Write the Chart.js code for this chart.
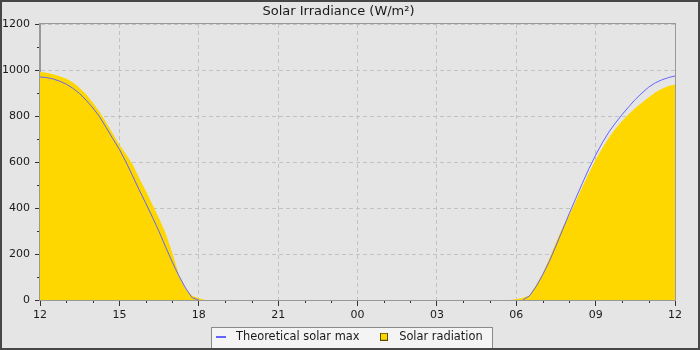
<!DOCTYPE html>
<html>
<head>
<meta charset="utf-8">
<title>Solar Irradiance</title>
<script src="https://cdn.jsdelivr.net/npm/chart.js@4/dist/chart.umd.min.js"></script>
<style>
  html, body { margin: 0; padding: 0; background: #e5e5e5; }
  #frame {
    width: 700px; height: 350px; box-sizing: border-box;
    border: 2px solid #474747; background: #e5e5e5;
  }
  #frame canvas { display: block; }
</style>
</head>
<body>
<div id="frame"><canvas id="irradiance" width="696" height="346"></canvas></div>
<script>
// Sample times, every 15 minutes from noon to noon of the next day
const times = [
  "12:00","12:15","12:30","12:45","13:00","13:15","13:30","13:45",
  "14:00","14:15","14:30","14:45","15:00","15:15","15:30","15:45",
  "16:00","16:15","16:30","16:45","17:00","17:15","17:30","17:45",
  "18:00","18:15","18:30","18:45","19:00","19:15","19:30","19:45",
  "20:00","20:15","20:30","20:45","21:00","21:15","21:30","21:45",
  "22:00","22:15","22:30","22:45","23:00","23:15","23:30","23:45",
  "00:00","00:15","00:30","00:45","01:00","01:15","01:30","01:45",
  "02:00","02:15","02:30","02:45","03:00","03:15","03:30","03:45",
  "04:00","04:15","04:30","04:45","05:00","05:15","05:30","05:45",
  "06:00","06:15","06:30","06:45","07:00","07:15","07:30","07:45",
  "08:00","08:15","08:30","08:45","09:00","09:15","09:30","09:45",
  "10:00","10:15","10:30","10:45","11:00","11:15","11:30","11:45",
  "12:00"
];

// Clear-sky maximum (W/m²); no value while the sun is down
const theoreticalMax = [
  970, 967, 961, 951, 938, 920, 897, 868,
  835, 797, 750, 702, 655, 600, 540, 478,
  420, 360, 298, 230, 165, 105, 52, 10,
  0, null, null, null, null, null, null, null,
  null, null, null, null, null, null, null, null,
  null, null, null, null, null, null, null, null,
  null, null, null, null, null, null, null, null,
  null, null, null, null, null, null, null, null,
  null, null, null, null, null, null, null, null,
  null, 0, 18, 58, 110, 168, 235, 305,
  375, 442, 508, 572, 630, 683, 730, 770,
  806, 840, 872, 900, 925, 944, 957, 967,
  974
];

// Measured solar radiation (W/m²)
const solarRadiation = [
  991, 988, 982, 973, 962, 946, 922, 893,
  858, 818, 772, 724, 675, 635, 590, 530,
  475, 415, 355, 290, 205, 110, 48, 18,
  8, 0, 0, 0, 0, 0, 0, 0,
  0, 0, 0, 0, 0, 0, 0, 0,
  0, 0, 0, 0, 0, 0, 0, 0,
  0, 0, 0, 0, 0, 0, 0, 0,
  0, 0, 0, 0, 0, 0, 0, 0,
  0, 0, 0, 0, 0, 0, 0, 0,
  3, 10, 20, 65, 115, 180, 250, 315,
  370, 428, 492, 552, 610, 660, 705, 745,
  778, 808, 835, 858, 880, 902, 918, 930,
  937
];

// Labels for the 3-hourly ticks along the time axis
const hourLabels = ["12", "15", "18", "21", "00", "03", "06", "09", "12"];

// Hours elapsed since the first noon, for each sample
const hoursSinceNoon = (() => {
  const out = [];
  let prev = -1;
  for (const t of times) {
    const [hh, mm] = t.split(":").map(Number);
    let h = ((hh - 12 + 24) % 24) + mm / 60;
    if (h < prev) h += 24;
    out.push(h);
    prev = h;
  }
  return out;
})();

const toPoints = (values) => values.map((v, i) => ({ x: hoursSinceNoon[i], y: v }));

const BLUE = "#6464ff";
const GOLD = "#ffd700";
const AXIS_GREY = "#999999";
const GRID_GREY = "#c2c2c2";
const TEXT = "#1a1a1a";
const TICK = "#333333";

Chart.defaults.font.family = "'DejaVu Sans', sans-serif";
Chart.defaults.font.size = 11;
Chart.defaults.color = TEXT;

// Small legend symbols: a short line and a bordered square
function lineSymbol(color) {
  const c = document.createElement("canvas");
  c.width = 10; c.height = 2;
  const g = c.getContext("2d");
  g.fillStyle = color;
  g.fillRect(0, 0, 10, 2);
  return c;
}
function squareSymbol(fill, stroke) {
  const c = document.createElement("canvas");
  c.width = 8; c.height = 8;
  const g = c.getContext("2d");
  g.fillStyle = fill;
  g.fillRect(0, 0, 8, 8);
  g.strokeStyle = stroke;
  g.lineWidth = 1;
  g.strokeRect(0.5, 0.5, 7, 7);
  return c;
}
const legendSymbols = [lineSymbol(BLUE), squareSymbol(GOLD, "#5c4d00")];

// Legend panel, plot frame and minor tick marks
const decorations = {
  id: "decorations",
  afterLayout(chart) {
    // legend row sits just under the time labels, spanning the full width
    const lg = chart.legend;
    if (!lg) return;
    lg.left = 0;
    lg.right = chart.width - 6;
    lg.width = lg.right - lg.left;
    lg.top = chart.height - 32;
    lg.bottom = chart.height;
    lg.height = lg.bottom - lg.top;
  },
  beforeDraw(chart) {
    const lg = chart.legend;
    if (!lg || !lg.legendHitBoxes || !lg.legendHitBoxes.length) return;
    const boxes = lg.legendHitBoxes;
    const minX = Math.min(...boxes.map(b => b.left));
    const maxX = Math.max(...boxes.map(b => b.left + b.width));
    const midY = boxes[0].top + boxes[0].height / 2;
    const ctx = chart.ctx;
    ctx.save();
    const x0 = Math.round(minX) + 0.5;
    const x1 = Math.round(maxX + 9) + 0.5;
    const y0 = Math.round(midY - 10) + 0.5;
    const y1 = chart.height + 2;
    ctx.fillStyle = "#f4f4f4";
    ctx.fillRect(x0, y0, x1 - x0, y1 - y0);
    ctx.strokeStyle = "#8a8a8a";
    ctx.lineWidth = 1;
    ctx.strokeRect(x0, y0, x1 - x0, y1 - y0);
    ctx.restore();
  },
  afterDraw(chart) {
    const { ctx, chartArea: a, scales: { x, y } } = chart;
    ctx.save();
    ctx.strokeStyle = TICK;
    ctx.lineWidth = 1;
    ctx.beginPath();
    for (let h = 0; h <= 24; h++) {
      if (h % 3 === 0) continue;
      const px = Math.round(x.getPixelForValue(h)) + 0.5;
      ctx.moveTo(px, a.bottom);
      ctx.lineTo(px, a.bottom + 3);
    }
    for (let v = 100; v < 1200; v += 200) {
      const py = Math.round(y.getPixelForValue(v)) + 0.5;
      ctx.moveTo(a.left - 3, py);
      ctx.lineTo(a.left, py);
    }
    ctx.stroke();
    ctx.strokeStyle = AXIS_GREY;
    ctx.strokeRect(Math.round(a.left) - 0.5, Math.round(a.top) - 0.5,
                   Math.round(a.right - a.left) + 1, Math.round(a.bottom - a.top) + 1);
    ctx.restore();
  }
};

new Chart(document.getElementById("irradiance"), {
  type: "line",
  data: {
    datasets: [
      {
        label: "Theoretical solar max",
        data: toPoints(theoreticalMax),
        borderColor: BLUE,
        backgroundColor: BLUE,
        borderWidth: 1,
        pointRadius: 0,
        fill: false,
        spanGaps: false,
        tension: 0
      },
      {
        label: "Solar radiation",
        data: toPoints(solarRadiation),
        borderColor: "rgba(0,0,0,0)",
        borderWidth: 0,
        backgroundColor: GOLD,
        fill: "origin",
        pointRadius: 0,
        tension: 0
      }
    ]
  },
  options: {
    responsive: false,
    animation: false,
    devicePixelRatio: 1,
    events: [],
    layout: { padding: { left: 0, right: 23, top: 0, bottom: 0 } },
    plugins: {
      tooltip: { enabled: false },
      title: {
        display: true,
        text: "Solar Irradiance (W/m²)",
        color: TEXT,
        font: { size: 13, weight: "normal" },
        padding: { top: 1.7, bottom: 4.7 }
      },
      legend: {
        position: "bottom",
        maxHeight: 24,
        labels: {
          usePointStyle: true,
          pointStyleWidth: 19,
          boxHeight: 8,
          padding: 15,
          color: TEXT,
          font: { size: 11.4 },
          generateLabels(chart) {
            return chart.data.datasets.map((ds, i) => ({
              text: ds.label,
              datasetIndex: i,
              hidden: false,
              pointStyle: legendSymbols[i],
              fillStyle: ds.backgroundColor,
              strokeStyle: ds.borderColor,
              lineWidth: 0,
              fontColor: TEXT
            }));
          }
        }
      }
    },
    scales: {
      x: {
        type: "linear",
        min: 0,
        max: 24,
        ticks: {
          stepSize: 3,
          autoSkip: false,
          maxRotation: 0,
          padding: 3,
          color: TEXT,
          callback: (v) => hourLabels[Math.round(v / 3)]
        },
        grid: { color: GRID_GREY, tickColor: TICK, tickLength: 6, tickBorderDash: [] },
        border: { color: AXIS_GREY, dash: [4, 3] },
        afterFit(scale) { scale.height = 24; }
      },
      y: {
        min: 0,
        max: 1200,
        ticks: { stepSize: 200, padding: 5, color: TEXT, callback: (v) => String(v) },
        grid: { color: GRID_GREY, tickColor: TICK, tickLength: 5, tickBorderDash: [] },
        border: { color: AXIS_GREY, dash: [4, 3] },
        afterFit(scale) { scale.width = 38; }
      }
    }
  },
  plugins: [decorations]
});
</script>
</body>
</html>
